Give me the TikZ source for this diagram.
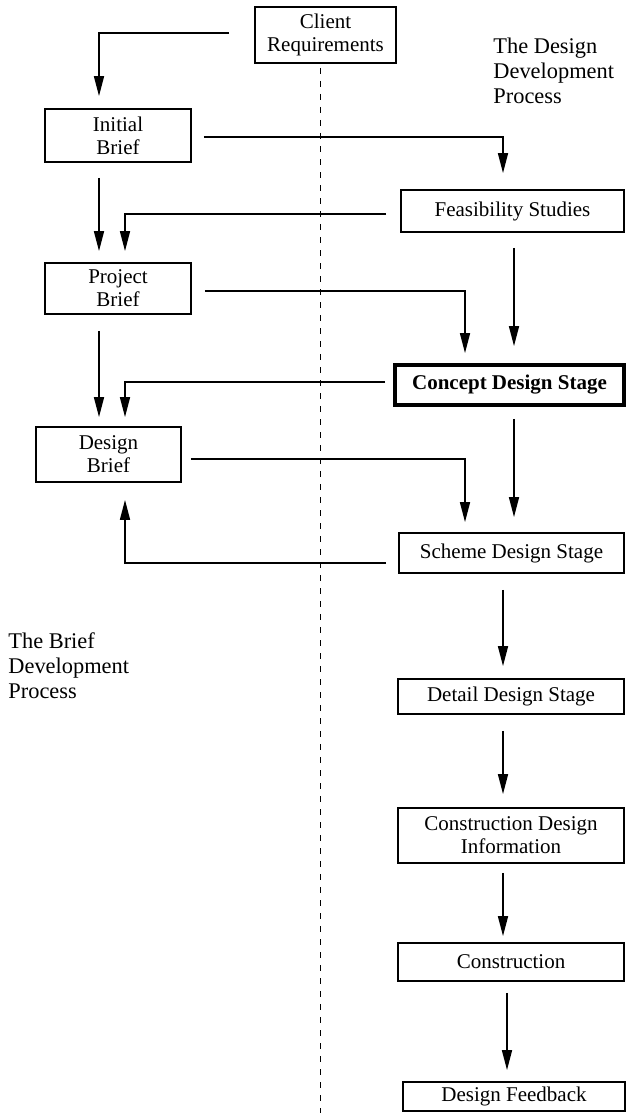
\documentclass[tikz,border=0pt]{standalone}
\usepackage{fontspec}
\setmainfont{Liberation Serif}
\usetikzlibrary{arrows.meta,calc}
\begin{document}
\begin{tikzpicture}[x=0.5pt,y=-0.5pt,
  box/.style={draw,line width=0.9pt,rectangle,inner sep=0pt,align=center,
    font=\fontsize{10.5}{11.5}\selectfont},
  thickbox/.style={box,line width=1.9pt,font=\fontsize{10.5}{11.5}\selectfont\bfseries},
  label/.style={align=left,anchor=north west,inner sep=0pt,
    font=\fontsize{11.2}{12.5}\selectfont},
  arr/.style={line width=0.8pt,-{Triangle[length=10pt,width=5pt]}},
  divider/.style={line width=0.4pt,dash pattern=on 3pt off 3.5pt}]
\useasboundingbox (0,0) rectangle (626,1113);
% nodes
\node[box,minimum width=70.5pt,minimum height=28pt] (cr) at (325.5,35) {Client\\Requirements};
\node[box,minimum width=73pt,minimum height=26.5pt] (ib) at (118,135.5) {Initial\\Brief};
\node[box,minimum width=73pt,minimum height=25.5pt] (pb) at (118,288.5) {Project\\Brief};
\node[box,minimum width=72.5pt,minimum height=27.5pt] (db) at (108.5,454.5) {Design\\Brief};
\node[box,minimum width=111.5pt,minimum height=21pt] (fs) at (512.5,211) {Feasibility Studies};
\node[thickbox,minimum width=114.5pt,minimum height=20pt] (cd) at (509.5,385) {Concept Design Stage};
\node[box,minimum width=112.5pt,minimum height=20pt] (sd) at (511.5,553) {Scheme Design Stage};
\node[box,minimum width=113pt,minimum height=17.5pt] (dd) at (511,696.5) {Detail Design Stage};
\node[box,minimum width=113pt,minimum height=27.5pt] (cdi) at (511,835.5) {Construction Design\\Information};
\node[box,minimum width=113pt,minimum height=19pt] (cn) at (511,962) {Construction};
\node[box,minimum width=111pt,minimum height=14.5pt] (df) at (514,1096.5) {Design Feedback};
% labels
\node[label] (tdp) at (493,38) {The Design\\Development\\Process};
\node[label] (tbp) at (8,632) {The Brief\\Development\\Process};
% divider
\coordinate (dtop) at (320,68);
\coordinate (dbot) at (320,1113);
\draw[divider] (dtop) -- (dbot);
% connectors
\draw[arr] ($(cr.west)+(-25,-2)$) -| ($(ib.north)+(-19,-12)$);
\draw[arr] ($(ib.east)+(12,1.5)$) -| ($(fs.north)+(-9.5,-16)$);
\draw[arr] ($(ib.south)+(-19,15)$) -- ($(pb.north)+(-19,-11)$);
\draw[arr] ($(fs.west)+(-14,3)$) -| ($(pb.north)+(7,-11)$);
\draw[arr] ($(fs.south)+(1.5,15)$) -- ($(cd.north)+(4.5,-17)$);
\draw[arr] ($(pb.east)+(13,2.5)$) -| ($(cd.north)+(-44.5,-10)$);
\draw[arr] ($(pb.south)+(-19,16)$) -- ($(db.north)+(-9.5,-9)$);
\draw[arr] ($(cd.west)+(-8,-3)$) -| ($(db.north)+(16.5,-9)$);
\draw[arr] ($(cd.south)+(4.5,12)$) -- ($(sd.north)+(2.5,-15)$);
\draw[arr] ($(db.east)+(9,4.5)$) -| ($(sd.north)+(-46.5,-10)$);
\draw[arr] ($(sd.west)+(-12,10)$) -| ($(db.south)+(16.5,17)$);
\draw[arr] ($(sd.south)+(-8.5,16)$) -- ($(dd.north)+(-8,-12)$);
\draw[arr] ($(dd.south)+(-8,16)$) -- ($(cdi.north)+(-8,-13)$);
\draw[arr] ($(cdi.south)+(-8,9)$) -- ($(cn.north)+(-8,-6)$);
\draw[arr] ($(cn.south)+(-4,11)$) -- ($(df.north)+(-7,-11)$);
\end{tikzpicture}
\end{document}
